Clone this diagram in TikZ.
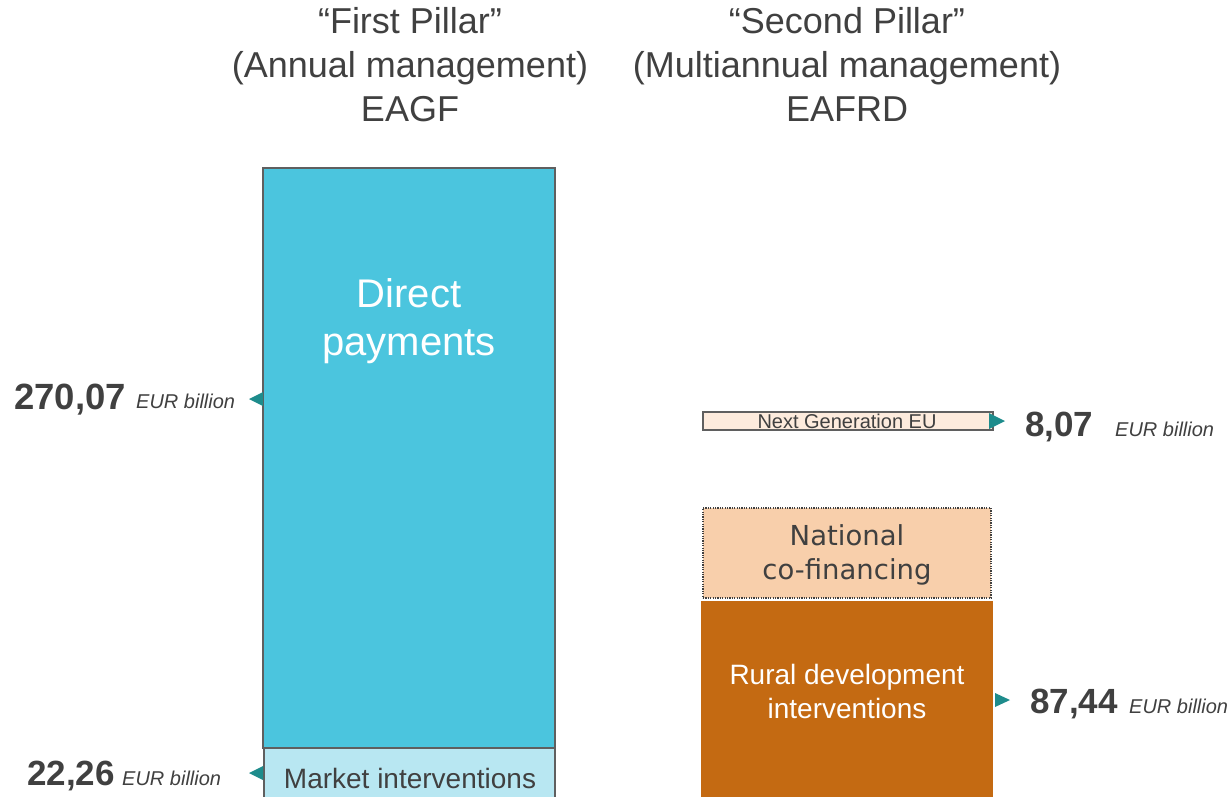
\documentclass[tikz,border=0pt]{standalone}
\usepackage{fontspec}
\setmainfont{Liberation Sans}
\newfontfamily\dejavu{DejaVu Sans}
\definecolor{txt}{HTML}{404040}
\definecolor{dpfill}{HTML}{4BC5DE}
\definecolor{mifill}{HTML}{B8E7F2}
\definecolor{ngfill}{HTML}{FDEBDD}
\definecolor{ncfill}{HTML}{F8CFAB}
\definecolor{rdfill}{HTML}{C46A12}
\definecolor{arr}{HTML}{1E8C8C}
\definecolor{edge}{HTML}{5F5F5F}
\tikzset{
  box/.style={draw=edge, line width=1.2pt, anchor=north west, inner sep=0pt, outer sep=0pt},
  title/.style={align=center, text=txt, font=\fontsize{36}{44}\selectfont, anchor=base},
  num/.style={anchor=base west, text=txt, font=\fontsize{35}{40}\selectfont\bfseries, inner sep=0pt},
  unit/.style={anchor=base west, text=txt, font=\fontsize{20}{24}\selectfont\itshape, inner sep=0pt},
  tip/.style={fill=arr}
}
\begin{document}
\begin{tikzpicture}[x=1pt,y=-1pt]
\useasboundingbox (0,0) rectangle (1230,796);
\clip (0,0) rectangle (1230,796);
% titles
\node[title] (t1) at (410,121) {“First Pillar”\\(Annual management)\\EAGF};
\node[title] (t2) at (847,121) {“Second Pillar”\\(Multiannual management)\\EAFRD};
% first pillar boxes
\node[box, fill=dpfill, minimum width=292pt, minimum height=580pt] (dp) at (263,168) {};
\node[box, fill=mifill, minimum width=291pt, minimum height=60pt] (mi) at (264,748) {};
\node[align=center, text=white, font=\fontsize{40}{48}\selectfont, anchor=base, inner sep=0pt] (dpt) at (409,355) {Direct\\payments};
\node[text=txt, font=\fontsize{28}{32}\selectfont, anchor=base, inner sep=0pt] (mit) at (410,788) {Market interventions};
% second pillar boxes
\node[box, fill=ngfill, line width=1.4pt, minimum width=290pt, minimum height=18pt] (ng) at (703,412) {};
\node[text=txt, font=\fontsize{20}{24}\selectfont, anchor=base, inner sep=0pt] (ngt) at (847,428) {Next Generation EU};
\node[box, fill=ncfill, dash pattern=on 1.2pt off 1.2pt, line width=1.8pt, draw=txt, minimum width=288pt, minimum height=90pt] (nc) at (703,508) {};
\node[align=center, text=txt, font=\dejavu\fontsize{27.5}{34}\selectfont, anchor=base, inner sep=0pt] (nct) at (847,579) {National\\co-financing};
\node[box, draw=none, fill=rdfill, minimum width=292pt, minimum height=200pt] (rd) at (701,601) {};
\node[align=center, text=white, font=\fontsize{28}{34}\selectfont, anchor=base, inner sep=0pt] (rdt) at (847,718) {Rural development\\interventions};
% amounts
\node[num, font=\fontsize{36.5}{40}\selectfont\bfseries] (n1) at (14,409) {270,07};
\node[unit] (u1) at (136,408) {EUR billion};
\node[num] (n2) at (27,785) {22,26};
\node[unit] (u2) at (122,785) {EUR billion};
\node[num] (n3) at (1025,436) {8,07};
\node[unit] (u3) at (1115,436) {EUR billion};
\node[num] (n4) at (1030,713) {87,44};
\node[unit] (u4) at (1129,713) {EUR billion};
% arrow tips
\fill[tip] (249,399) -- (263,392) -- (263,406) -- cycle;
\fill[tip] (249,773) -- (263,766) -- (263,780) -- cycle;
\fill[tip] (1005,421) -- (989,413) -- (989,429) -- cycle;
\fill[tip] (1010,700) -- (995,693) -- (995,707) -- cycle;
\end{tikzpicture}
\end{document}
